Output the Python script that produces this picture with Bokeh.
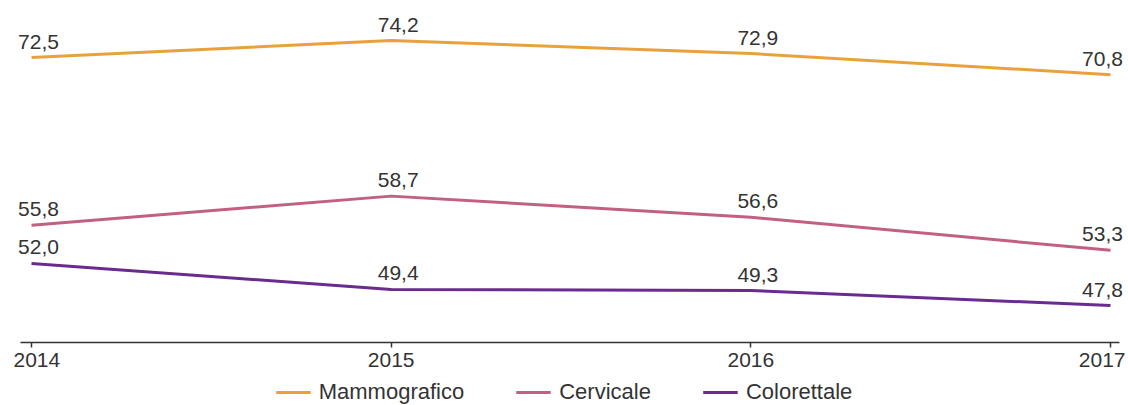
from bokeh.plotting import figure
from bokeh.models import (ColumnDataSource, Range1d, FixedTicker, Legend, LegendItem, Label)
from bokeh.core.properties import value
from bokeh.embed import file_html
from bokeh.resources import INLINE

# ---- data ----
YEARS = [2014, 2015, 2016, 2017]
TICK_LABELS = ["2014", "2015", "2016", "2017"]
SERIES_NAMES = ["Mammografico", "Cervicale", "Colorettale"]
MAMMOGRAFICO = [72.5, 74.2, 72.9, 70.8]
CERVICALE = [55.8, 58.7, 56.6, 53.3]
COLORETTALE = [52.0, 49.4, 49.3, 47.8]

# ---- layout / styles ----
X_RANGE = (2013.9138, 2017.0500)
Y_RANGE = (37.846, 78.184)
AXIS_Y = 44.12                      # where the x axis line sits
AXIS_BOUNDS = (2013.9694, 2017.025)
COLORS = ["#E9A23B", "#C2607F", "#6A2B8F"]
FONT = "Liberation Sans"
FS = "21px"
LEG_FS = "22px"
TEXT_COLOR = "#333333"
LABEL_DX = [7, 7, 7, -8]   # horizontal nudges of value labels (px)

p = figure(width=1128, height=405, title=None,
           x_range=Range1d(*X_RANGE), y_range=Range1d(*Y_RANGE),
           output_backend="svg", toolbar_location=None,
           y_axis_location=None,
           min_border_left=0, min_border_right=0,
           min_border_top=0, min_border_bottom=0)
p.outline_line_color = None
p.xgrid.visible = False
p.ygrid.visible = False

ax = p.xaxis[0]
ax.fixed_location = AXIS_Y
ax.bounds = AXIS_BOUNDS
ax.ticker = FixedTicker(ticks=YEARS)
ax.major_label_overrides = {YEARS[0]: "", YEARS[-1]: "",
                            YEARS[1]: TICK_LABELS[1], YEARS[2]: TICK_LABELS[2]}
ax.axis_line_color = "#333333"
ax.axis_line_width = 1.5
ax.major_tick_line_color = "#333333"
ax.major_tick_line_width = 1.5
ax.major_tick_in = 0
ax.major_tick_out = 5
ax.minor_tick_line_color = None
ax.major_label_standoff = 5
ax.major_label_text_font = FONT
ax.major_label_text_font_size = FS
ax.major_label_text_color = TEXT_COLOR

# end tick labels kept inside the chart edges
p.add_layout(Label(x=YEARS[0], y=AXIS_Y, text=TICK_LABELS[0],
                   text_align="left", text_baseline="top",
                   x_offset=-18, y_offset=-10, text_font=FONT, text_font_size=FS,
                   text_color=TEXT_COLOR))
p.add_layout(Label(x=YEARS[-1], y=AXIS_Y, text=TICK_LABELS[-1],
                   text_align="right", text_baseline="top",
                   x_offset=15, y_offset=-10, text_font=FONT, text_font_size=FS,
                   text_color=TEXT_COLOR))

items = []
for name, vals, col in zip(SERIES_NAMES, [MAMMOGRAFICO, CERVICALE, COLORETTALE], COLORS):
    src = ColumnDataSource(dict(
        x=YEARS, y=vals,
        txt=[f"{v:.1f}".replace(".", ",") for v in vals],
        dx=LABEL_DX))
    r = p.line("x", "y", source=src, line_color=col, line_width=3)
    p.text("x", "y", text="txt", source=src, x_offset="dx", y_offset=-16,
           text_align="center", text_baseline="alphabetic",
           text_font=value(FONT), text_font_size=value(FS),
           text_color=TEXT_COLOR)
    items.append(LegendItem(label=name, renderers=[r]))

legend = Legend(items=items, orientation="horizontal", location="bottom_center",
                glyph_width=35, glyph_height=20, label_standoff=8, spacing=52,
                padding=0, margin=0, border_line_color=None,
                background_fill_alpha=0,
                label_text_font=FONT, label_text_font_size=LEG_FS,
                label_text_color=TEXT_COLOR)
p.add_layout(legend)

open("out.html", "w").write(file_html(p, INLINE))
